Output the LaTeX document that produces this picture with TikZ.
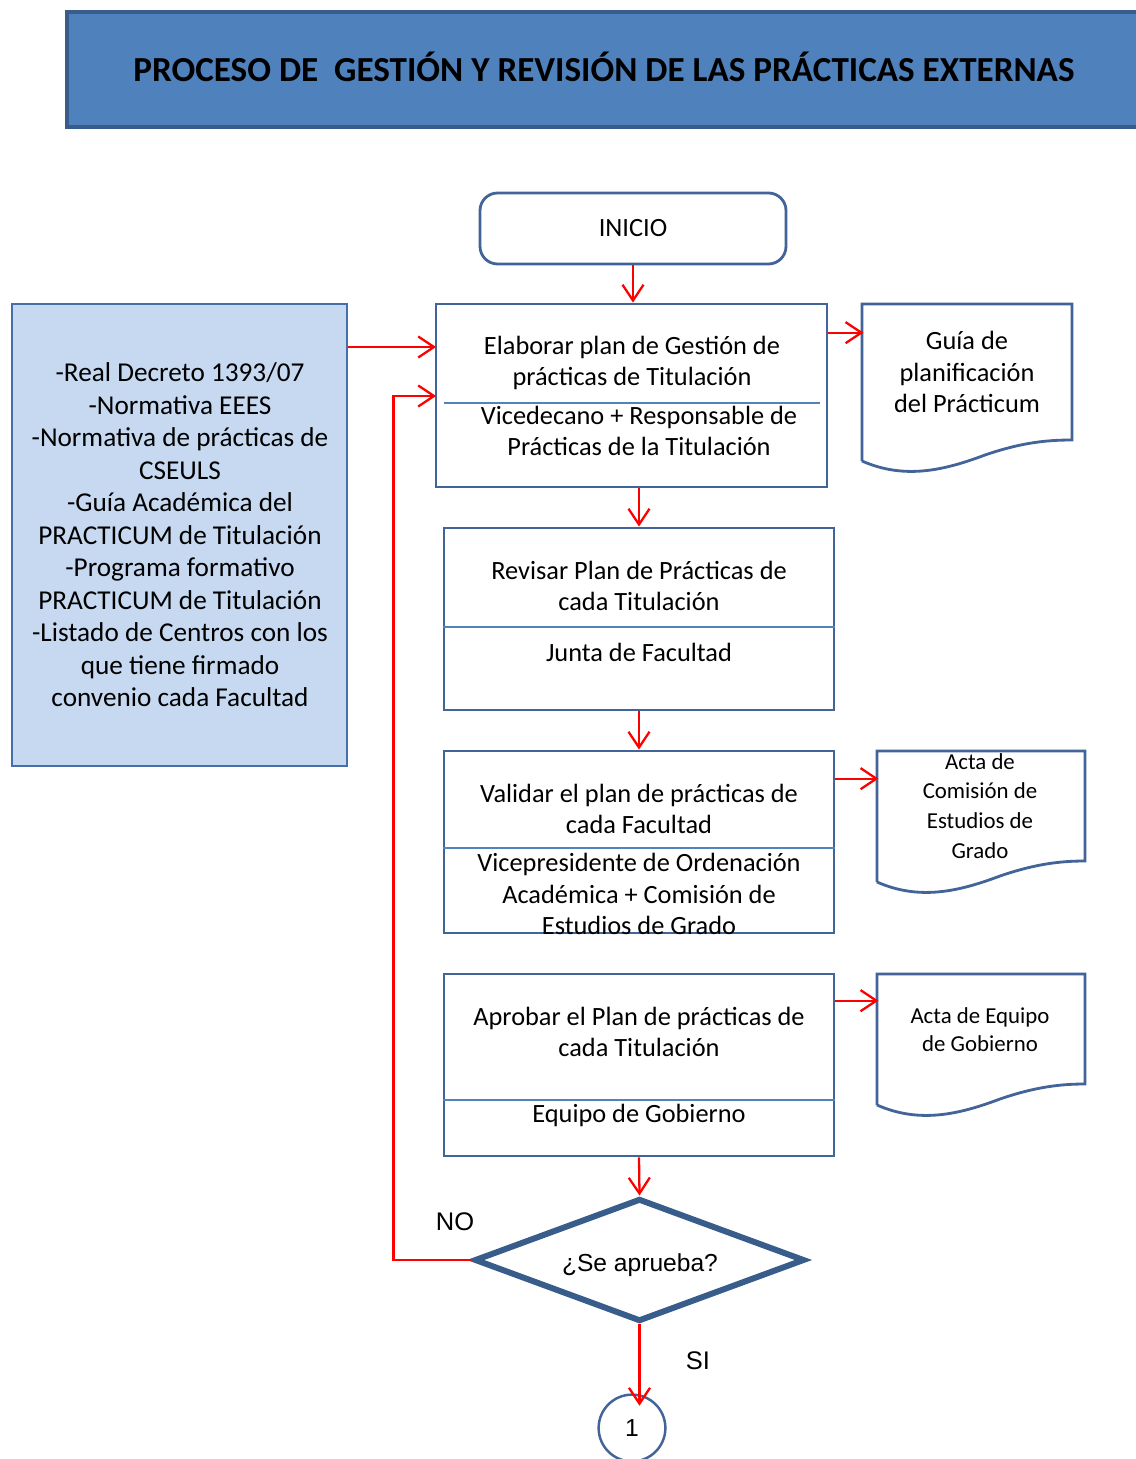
\documentclass[tikz,border=0pt]{standalone}
\usepackage{fontspec}
\setmainfont{Carlito}
\newfontfamily\arialfont{Liberation Sans}
\usetikzlibrary{shapes.geometric, arrows.meta, positioning, fit, calc}

\begin{document}
\begin{tikzpicture}[
            x=0.02cm, y=-0.02cm,
            >={Straight Barb[length=9pt,width=12pt]},
            flow/.style={->, red, line width=1.3pt},
            procbox/.style={draw=boxblue, line width=1.6pt, inner sep=0pt},
            divider/.style={draw=divblue, line width=1.6pt},
            docline/.style={draw=boxblue, line width=1.6pt},
            boxtext/.style={align=center, inner sep=0pt, font=\fontsize{15}{18}\selectfont},
            doctext/.style={align=center, inner sep=0pt, font=\fontsize{13}{17}\selectfont},
            decision/.style={diamond, aspect=2.66, draw=darkblue, line width=3.4pt, inner sep=0pt,
                minimum width=188pt, minimum height=70pt},
            answer/.style={font=\arialfont\fontsize{14.5}{17}\selectfont}
        ]

        % Define colors
        \definecolor{titleblue}{RGB}{79,129,189}
        \definecolor{darkblue}{RGB}{56,93,138}
        \definecolor{boxblue}{RGB}{66,100,152}
        \definecolor{divblue}{RGB}{84,130,190}
        \definecolor{srcfill}{RGB}{198,217,241}
        \definecolor{srcborder}{RGB}{70,110,170}

        \path[use as bounding box, fill=white] (0,0) rectangle (1135,1459);

        % Title
        \node[fit={(67,12) (1150,127)}, fill=titleblue, draw=darkblue, line width=2.6pt, inner sep=0pt] (title) {};
        \node[font=\bfseries\fontsize{20}{24}\selectfont] (titletext) at (604,67)
            {PROCESO DE \ GESTIÓN Y REVISIÓN DE LAS PRÁCTICAS EXTERNAS};

        % Start
        \node[draw=boxblue, line width=1.6pt, rounded corners=10pt, fit={(480,193) (786,264)}, inner sep=0pt] (inicio) {};
        \node[boxtext] at (inicio.center) {INICIO};

        % Sources
        \node[fit={(12,304) (347,766)}, fill=srcfill, draw=srcborder, line width=1.6pt, inner sep=0pt] (src) {};
        \node[align=center, inner sep=0pt, font=\fontsize{15.5}{18.5}\selectfont] (srctext) at (180,535)
            {-Real Decreto 1393/07\\-Normativa EEES\\-Normativa de prácticas de\\CSEULS\\-Guía Académica del\\
             PRACTICUM de Titulación\\-Programa formativo\\PRACTICUM de Titulación\\-Listado de Centros con los\\
             que tiene firmado\\convenio cada Facultad};

        % Process boxes
        \node[procbox, fit={(436,304) (827,487)}] (elab) {};
        \draw[divider] (444,403) -- (820,403);
        \node[boxtext] (elabup) at (632,363) {Elaborar plan de Gestión de\\prácticas de Titulación};
        \node[boxtext] (elablo) at (639,431) {Vicedecano + Responsable de\\Prácticas de la Titulación};

        \node[procbox, fit={(444,528) (834,710)}] (rev) {};
        \draw[divider] (rev.west |- 0,627) -- (rev.east |- 0,627);
        \node[boxtext] (revup) at (639,586) {Revisar Plan de Prácticas de\\cada Titulación};
        \node[boxtext] (revlo) at (639,652) {Junta de Facultad};

        \node[procbox, fit={(444,751) (834,933)}] (val) {};
        \draw[divider] (val.west |- 0,848) -- (val.east |- 0,848);
        \node[boxtext] (valup) at (639,809) {Validar el plan de prácticas de\\cada Facultad};
        \node[boxtext] (vallo) at (639,894) {Vicepresidente de Ordenación\\Académica + Comisión de\\Estudios de Grado};

        \node[procbox, fit={(444,974) (834,1156)}] (appr) {};
        \draw[divider] (appr.west |- 0,1100) -- (appr.east |- 0,1100);
        \node[boxtext] (apprup) at (639,1032) {Aprobar el Plan de prácticas de\\cada Titulación};
        \node[boxtext] (apprlo) at (639,1115) {Equipo de Gobierno};

        % Documents
        \foreach \n/\l/\r/\t/\b in {guia/862/1072/304/461, actaA/877/1085/751/882, actaB/877/1085/974/1105}{
            \node[fit={(\l,\t) (\r,\b)}, inner sep=0pt] (\n) {};
            \draw[docline] (\l,\b) -- (\l,\t) -- (\r,\t) -- (\r,\b-21)
                .. controls (\l+183,\b-21) and (\l+158,\b-18) .. (\l+123,\b-6)
                .. controls (\l+83,\b+9) and (\l+43,\b+19) .. (\l,\b);
        }
        \node[align=center, inner sep=0pt, font=\fontsize{15}{18}\selectfont] (guiatext) at (967,372)
            {Guía de\\planificación\\del Prácticum};
        \node[doctext] (actaAtext) at (980,806) {Acta de\\Comisión de\\Estudios de\\Grado};
        \node[doctext, font=\fontsize{13}{16}\selectfont] (actaBtext) at (980,1030) {Acta de Equipo\\de Gobierno};

        % Decision and connector
        \node[decision] (dec) at (639.5,1260) {};
        \node[font=\arialfont\fontsize{14}{17}\selectfont] (dectext) at (640,1265) {¿Se aprueba?};
        \node[circle, draw=boxblue, line width=1.4pt, minimum size=38pt, inner sep=0pt,
            font=\arialfont\fontsize{14}{17}\selectfont] (conn) at (632,1428) {1};
        \node[answer] (no) at (455,1222) {NO};
        \node[answer] (si) at (698,1361) {SI};

        % Entry points
        \coordinate (inA) at (436,347);
        \coordinate (inB) at (436,396);

        % Flow arrows
        \draw[flow] (inicio.south) -- (inicio.south |- elab.north);
        \draw[flow] (rev.north |- elab.south) -- (rev.north);
        \draw[flow] (rev.south) -- (val.north);
        \draw[flow] (appr.south) -- (dec.north);
        \draw[flow] (dec.south) -- ([yshift=-7pt]dec.south |- conn.north);
        \draw[flow] (src.east |- inA) -- (inA);
        \draw[flow] (dec.west) -- ++(-78,0) |- (inB);

        % Output documents
        \draw[flow] (elab.east |- guia.north) ++(0,29) -- ++(35,0);
        \draw[flow] (val.east |- actaA.north) ++(0,28) -- ++(43,0);
        \draw[flow] (appr.east |- actaB.north) ++(0,27) -- ++(43,0);

        \end{tikzpicture}
\end{document}
